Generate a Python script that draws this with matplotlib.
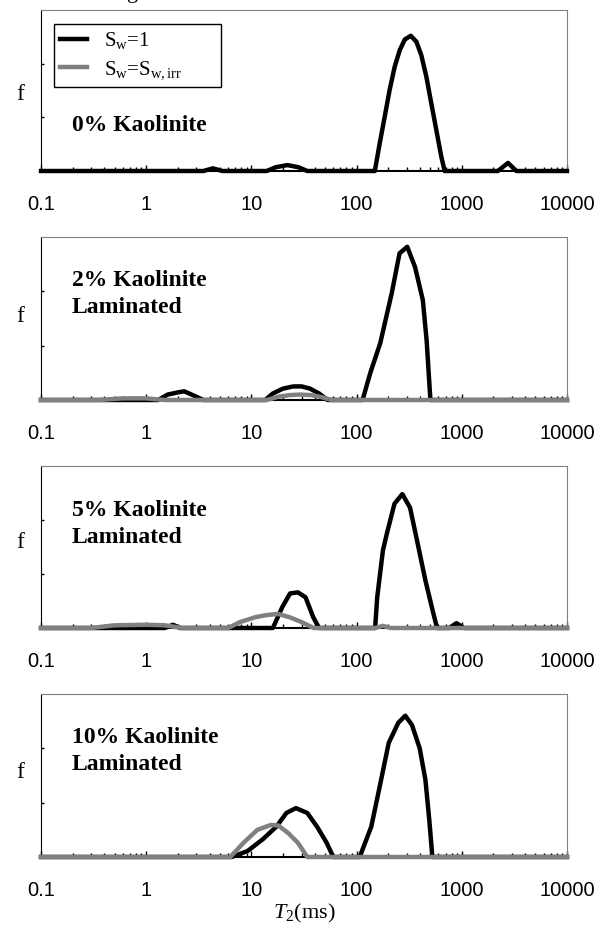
import matplotlib
matplotlib.use('Agg')
import matplotlib.pyplot as plt
from matplotlib.ticker import FixedLocator, LogLocator, NullFormatter

plt.rcParams['mathtext.fontset'] = 'custom'
plt.rcParams['mathtext.rm'] = 'Liberation Serif'
plt.rcParams['mathtext.it'] = 'Liberation Serif:italic'

# T2 distributions (ms) for the four samples
# Sw = 1 (fully saturated)
t2_k0_sat = [0.1, 3.5, 4.3, 5.3, 14, 17, 22, 28, 34, 149, 166, 185, 206, 230, 257, 287,
             327, 370, 412, 460, 513, 573, 638, 687, 2200, 2750, 3300, 10000]
f_k0_sat = [0, 0, 0.005, 0, 0, 0.007, 0.011, 0.007, 0, 0, 0.052, 0.101, 0.151, 0.194,
            0.225, 0.245, 0.252, 0.241, 0.216, 0.176, 0.126, 0.076, 0.027, 0, 0, 0.015, 0, 0]

t2_k2_sat = [0.1, 1.3, 1.6, 2.0, 2.3, 2.7, 3.5, 13.5, 16, 20, 25, 30, 36, 44, 53,
             114, 135, 168, 216, 256, 303, 359, 426, 463, 503, 10000]
f_k2_sat = [0, 0, 0.010, 0.014, 0.016, 0.010, 0, 0, 0.012, 0.021, 0.025, 0.025, 0.021,
            0.012, 0, 0, 0.05, 0.105, 0.197, 0.27, 0.282, 0.245, 0.184, 0.11, 0, 0]

t2_k5_sat = [0.1, 1.5, 1.8, 2.1, 16, 19.7, 23.3, 27.7, 32.7, 38.7, 44, 150, 157, 178,
             194, 229, 272, 322, 381, 451, 535, 582, 760, 890, 1050, 10000]
f_k5_sat = [0, 0, 0.006, 0, 0, 0.039, 0.064, 0.066, 0.057, 0.02, 0, 0, 0.057, 0.144,
            0.175, 0.23, 0.248, 0.223, 0.156, 0.088, 0.028, 0, 0, 0.009, 0, 0]

t2_k10_sat = [0.1, 6.5, 9.2, 12.9, 17.3, 21.5, 26.5, 34, 42, 52, 60, 107, 138, 171,
              202, 249, 290, 336, 398, 451, 491, 525, 10000]
f_k10_sat = [0, 0, 0.011, 0.033, 0.056, 0.081, 0.09, 0.081, 0.056, 0.026, 0, 0, 0.056,
             0.142, 0.21, 0.247, 0.26, 0.243, 0.2, 0.142, 0.068, 0, 0]

# Sw = Sw,irr (irreducible saturation)
t2_k2_irr = [0.1, 0.35, 0.6, 1.0, 1.5, 14, 18, 23, 29, 37, 47, 58, 10000]
f_k2_irr = [0, 0, 0.003, 0.003, 0, 0, 0.006, 0.009, 0.010, 0.009, 0.005, 0, 0]

t2_k5_irr = [0.1, 0.3, 0.5, 1.0, 1.5, 2.2, 6, 7.8, 10.9, 14, 18, 23, 30, 39, 150, 178,
             210, 10000]
f_k5_irr = [0, 0, 0.005, 0.006, 0.005, 0, 0, 0.011, 0.02, 0.024, 0.026, 0.02, 0.011, 0,
            0, 0.004, 0, 0]

t2_k10_irr = [0.1, 6.3, 8.4, 11.4, 15.3, 18, 22.4, 27.7, 34, 10000]
f_k10_irr = [0, 0, 0.026, 0.05, 0.059, 0.058, 0.044, 0.026, 0, 0]

panel_names = ['0% Kaolinite', '2% Kaolinite\nLaminated', '5% Kaolinite\nLaminated',
               '10% Kaolinite\nLaminated']
sat_curves = [(t2_k0_sat, f_k0_sat), (t2_k2_sat, f_k2_sat), (t2_k5_sat, f_k5_sat),
              (t2_k10_sat, f_k10_sat)]
irr_curves = [None, (t2_k2_irr, f_k2_irr), (t2_k5_irr, f_k5_irr), (t2_k10_irr, f_k10_irr)]
xticks = [0.1, 1, 10, 100, 1000, 10000]
xticklabels = ['0.1', '1', '10', '100', '1000', '10000']

W, H = 606, 939
fig = plt.figure(figsize=(W / 100, H / 100), dpi=100)

# clipped title line above the top panel
fig.text(127 / W, 1 + 2 / H, 'g', family='Liberation Serif', fontsize=16, va='baseline')

tops = [10, 237, 466, 694]
bottoms = [171, 400, 628, 857]
label_y = [0.345, 0.80, 0.79, 0.80]
f_y = [95, 316, 543, 773]
GRAY = '#808080'
axes = []
for i in range(4):
    ax = fig.add_axes([41 / W, 1 - bottoms[i] / H, 526 / W, (bottoms[i] - tops[i]) / H])
    axes.append(ax)
    t, f = sat_curves[i]
    hs, = ax.plot(t, f, color='black', lw=3.2, clip_on=False, zorder=3)
    if irr_curves[i] is not None:
        t, f = irr_curves[i]
        hi, = ax.plot(t, f, color=GRAY, lw=3.2, clip_on=False, zorder=4)
    ax.set_xscale('log')
    ax.set_xlim(0.1, 10000)
    ax.set_ylim(0, 0.3)
    ax.xaxis.set_major_locator(FixedLocator(xticks))
    ax.set_xticklabels(xticklabels, family='Liberation Sans', fontsize=14.5)
    ax.xaxis.set_minor_locator(LogLocator(base=10, subs=range(2, 10)))
    ax.xaxis.set_minor_formatter(NullFormatter())
    ax.set_yticks([0.1, 0.2])
    ax.set_yticklabels([])
    ax.tick_params(axis='x', which='major', direction='in', length=4.5, width=1, pad=17)
    ax.tick_params(axis='x', which='minor', direction='in', length=3, width=1)
    ax.tick_params(axis='y', direction='in', length=2.5, width=1)
    ax.spines['left'].set_color('black')
    ax.spines['bottom'].set_color('black')
    ax.spines['bottom'].set_linewidth(1.5)
    ax.spines['top'].set_color(GRAY)
    ax.spines['right'].set_color(GRAY)
    ax.text(0.058, label_y[i], panel_names[i], transform=ax.transAxes,
            family='Liberation Serif', fontweight='bold', fontsize=17, va='top',
            linespacing=1.4)
    fig.text(20 / W, 1 - f_y[i] / H, 'f',
             family='Liberation Serif', fontsize=17, ha='center', va='center')

axes[0].legend(handles=[hs, hi],
               labels=[r'S$_{\rm w}$=1', r'S$_{\rm w}$=S$_{\rm w,irr}$       '],
               loc='upper left', bbox_to_anchor=(0.025, 0.915), borderaxespad=0,
               prop={'family': 'Liberation Serif', 'size': 15}, frameon=True,
               fancybox=False, edgecolor='black', framealpha=1, handlelength=1.3,
               handletextpad=0.8, borderpad=0.3, labelspacing=0.38)
axes[0].get_legend().get_frame().set_linewidth(1)

axes[3].set_xlabel(r'$T$$_{\rm 2}$(ms)', family='Liberation Serif', fontsize=16, labelpad=2)

fig.savefig('out.png', dpi=100)
